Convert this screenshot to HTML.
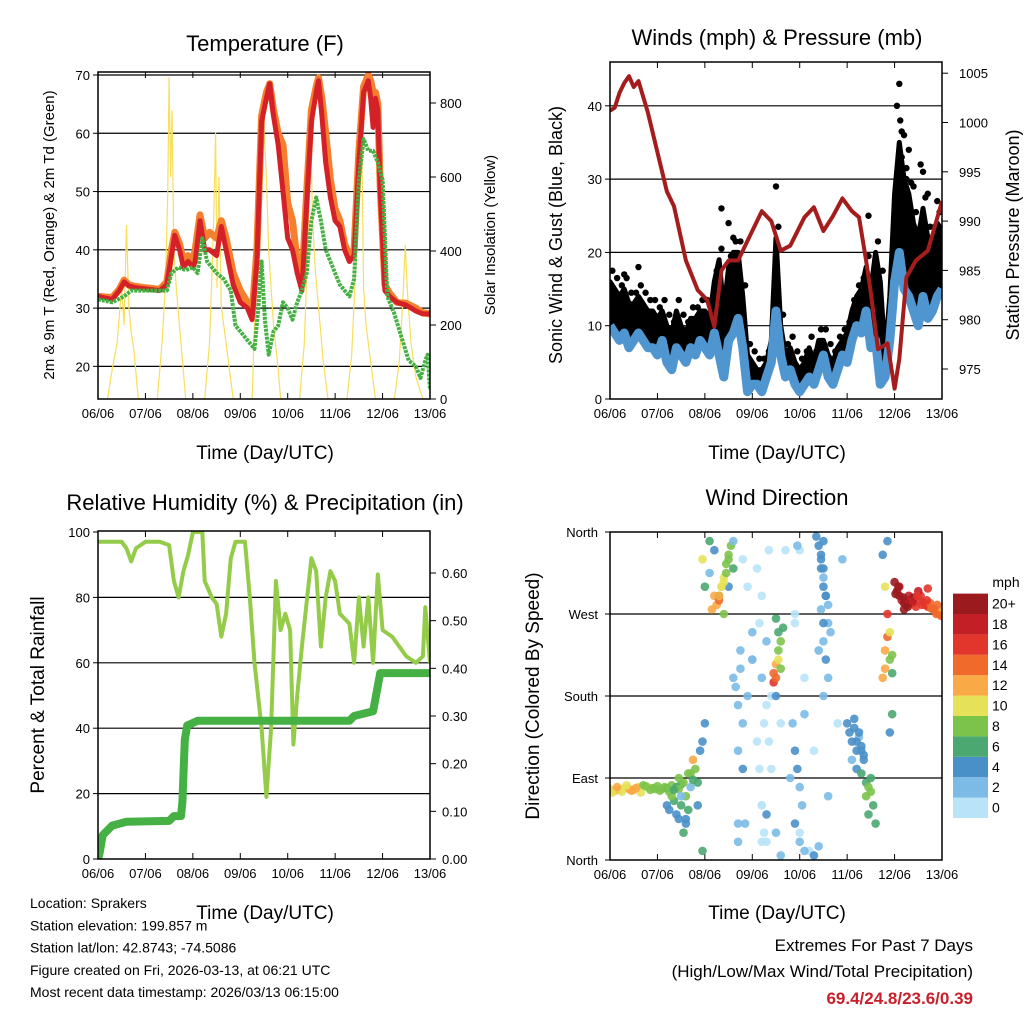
<!DOCTYPE html>
<html><head><meta charset="utf-8"><style>
body{margin:0;background:#fff}
svg{display:block;font-family:"Liberation Sans",Arial,sans-serif}
</style></head><body>
<svg id="s" width="1024" height="1024" viewBox="0 0 1024 1024"></svg>
<script>
// ---------- DATA ----------
const dayLabels=["06/06","07/06","08/06","09/06","10/06","11/06","12/06","13/06"];
const tempTicks=[20,30,40,50,60,70];
const solarTicks=[0,200,400,600,800];
const windTicks=[0,10,20,30,40];
const presTicks=[975,980,985,990,995,1000,1005];
const rhTicks=[0,20,40,60,80,100];
const rainTicks=[0,0.1,0.2,0.3,0.4,0.5,0.6];
const dirTicks=["North","East","South","West","North"];
const speedBins=["0","2","4","6","8","10","12","14","16","18","20+"];

const redTime=[0,0.3,0.45,0.55,0.65,0.8,1.0,1.3,1.45,1.55,1.62,1.72,1.8,1.9,2.0,2.05,2.15,2.25,2.35,2.5,2.6,2.7,2.85,3.0,3.15,3.25,3.35,3.45,3.55,3.62,3.7,3.8,3.9,4.0,4.1,4.2,4.3,4.4,4.5,4.6,4.65,4.72,4.8,4.9,5.0,5.1,5.2,5.3,5.4,5.5,5.6,5.7,5.75,5.8,5.85,5.9,5.95,6.05,6.15,6.3,6.5,6.7,6.85,7.0];
const redTemp=[32,31.5,33,34.5,33.8,33.5,33.3,33,34,39,42.5,40,37,38,37,38,45,40,40,39,44,40,34,31,30,28,38,62,66,68.5,63,58,50,42,40,36,33,48,62,67,69,63,55,49,45,44,40,38,39,55,67,69,66,61,66,64,50,33,32,31,30.5,29.5,29,29];
const orangeTemp=[32,31.8,33.2,34.8,34,33.7,33.5,33.2,34.5,40,43,41,38,39,38,40,46,42,43,42,45,42,36,33,31,29,40,63,67,68.5,64,60,58,48,45,38,34,50,64,68,69.5,66,60,52,47,45,41,39,40,57,68,70,69,67,67,65,51,34,32.5,31,30.8,30,29.2,29];
const greenTime=[0,0.3,0.55,0.7,1.0,1.3,1.45,1.55,1.7,1.85,2.0,2.1,2.2,2.3,2.5,2.65,2.8,2.9,3.0,3.1,3.2,3.3,3.38,3.45,3.52,3.6,3.7,3.8,3.9,4.0,4.1,4.2,4.3,4.4,4.5,4.6,4.7,4.8,4.9,5.0,5.1,5.2,5.3,5.4,5.5,5.6,5.7,5.8,5.9,6.0,6.1,6.25,6.4,6.55,6.7,6.8,6.9,6.95,7.0];
const dewTemp=[31.5,31,32,33,33,33,33,36,37,36.5,37,36,42,38,36,35,33,27,26,25,24,23,30,38,28,22,26,27,31,30,28,31,33,36,45,49,45,40,38,36,34,33,32,35,52,59,57,57,55,52,32,29,25,21,20,18,21,22,16];
const solarTime=[0.2,0.3,0.4,0.5,0.55,0.6,0.65,0.7,0.75,0.85,1.25,1.35,1.42,1.47,1.5,1.53,1.56,1.6,1.65,1.75,1.85,2.25,2.35,2.42,2.46,2.48,2.51,2.55,2.6,2.7,2.85,3.25,3.3,3.38,3.45,3.5,3.55,3.6,3.7,3.8,3.85,4.25,4.35,4.42,4.48,4.52,4.58,4.65,4.75,4.85,5.25,5.35,5.45,5.5,5.55,5.6,5.65,5.75,5.85,6.25,6.35,6.42,6.48,6.52,6.6,6.7,6.85,7.0];
const solarVal=[0,80,150,300,200,470,250,180,140,0,0,150,300,550,870,600,780,400,300,150,0,0,150,400,600,720,300,600,250,150,0,0,200,500,650,730,600,400,200,80,0,0,150,400,750,500,350,250,100,0,0,120,400,650,835,300,200,100,0,0,100,250,416,300,150,60,0,0];

const windWind=[10,9,8,9,7,8,9,8,7,7,6,8,5,4,7,6,5,7,6,8,7,6,9,6,3,8,9,11,7,1,2,2,1,3,5,12,6,3,4,2,1,2,3,2,4,6,3,2,4,6,5,8,10,9,12,7,8,2,3,8,16,20,15,14,12,10,14,11,12,14,15];
const windGust=[16,15,14,15,13,13,14,13,12,12,11,12,10,9,12,10,9,11,11,12,12,11,16,19,12,18,20,20,14,6,5,4,4,5,8,22,10,6,7,5,4,5,7,5,8,8,6,5,7,8,9,12,14,15,18,15,20,16,6,14,28,35,30,28,24,22,26,22,22,24,23];
const gustPeakTime=[6.05,6.1,6.12,6.2,6.3,6.55,6.6,3.5,2.35,5.45,6.15,6.25,6.4,6.7,6.9,2.5,2.6,0.3,0.6];
const gustPeakVal=[40,43,38,36,34,32,31,29,26,25,33,30,29,28,27,24,22,17,18];
const presTime=[0,0.1,0.2,0.3,0.4,0.5,0.6,0.8,1.0,1.2,1.35,1.6,1.85,2.05,2.2,2.35,2.5,2.7,2.9,3.2,3.4,3.6,3.8,4.1,4.3,4.5,4.7,4.9,5.1,5.25,5.4,5.5,5.65,5.85,6.0,6.1,6.25,6.45,6.7,7.0];
const presVal=[1001.2,1001.5,1003,1004,1004.7,1003.6,1004.2,1001,997,993,991.5,986,983,982,979.3,985,986,986,988,991,990,987,987.5,990.4,991.4,989,990.5,992.3,991,990.4,986,982.7,977,977.6,973,976,984.3,986,987,992];

const rhTime=[0,0.5,0.6,0.7,0.8,1.0,1.3,1.5,1.6,1.7,1.8,1.9,2.0,2.2,2.25,2.4,2.5,2.6,2.7,2.8,2.9,3.1,3.2,3.3,3.45,3.55,3.65,3.75,3.85,3.95,4.05,4.12,4.2,4.3,4.5,4.6,4.7,4.8,4.9,5.0,5.1,5.3,5.4,5.5,5.6,5.7,5.8,5.9,6.0,6.2,6.5,6.7,6.85,6.9,7.0];
const rhVal=[97,97,95,91,95,97,97,96,85,80,88,93,100,100,85,80,78,68,75,92,97,97,80,60,40,19,40,85,70,75,70,35,50,65,92,88,65,80,88,85,75,72,60,80,65,80,60,87,70,68,62,60,62,77,60];
const rainTime=[0,0.03,0.1,0.3,0.6,1.5,1.6,1.75,1.78,1.83,1.88,2.1,3.0,5.3,5.4,5.8,5.95,7.0];
const rainVal=[0,0.01,0.05,0.07,0.078,0.08,0.09,0.09,0.12,0.25,0.28,0.29,0.29,0.29,0.30,0.31,0.39,0.39];

const wdTime=[0,0.1,0.2,0.3,0.4,0.5,0.6,0.7,0.8,0.9,1.0,1.1,1.2,1.3,1.4,1.5,0.05,0.25,0.45,0.65,0.85,1.05,1.25,1.45,
1.2,1.25,1.35,1.4,1.45,1.5,1.55,1.6,1.65,1.7,1.75,1.8,1.85,1.9,1.95,2.0,1.3,1.6,1.7,1.85,1.95,
1.95,2.0,2.1,2.15,2.2,2.25,2.3,2.35,2.4,2.45,2.5,2.55,2.6,2.2,2.3,2.4,2.5,2.6,2.1,
2.6,2.8,2.9,3.0,3.1,3.2,3.3,3.4,2.7,2.9,3.0,3.2,3.4,3.6,3.8,3.9,4.0,4.2,4.4,4.6,4.8,4.9,3.7,3.9,4.1,4.3,4.1,4.0,3.2,3.5,2.8,3.0,3.3,3.6,
3.45,3.5,3.5,3.55,3.55,3.6,3.6,3.65,3.5,3.45,3.5,3.55,
4.35,4.4,4.45,4.45,4.5,4.5,4.55,4.6,4.6,4.65,4.5,4.4,4.55,4.6,4.5,4.4,4.3,
5.0,5.05,5.1,5.1,5.15,5.2,5.2,5.25,5.3,5.3,5.35,5.4,5.45,5.5,5.4,5.5,5.55,5.45,5.6,
5.75,5.8,5.8,5.85,5.9,5.9,5.95,5.95,5.85,5.8,5.75,5.85,5.95,5.9,
6.0,6.05,6.1,6.15,6.2,6.25,6.3,6.35,6.4,6.45,6.5,6.55,6.6,6.65,6.7,6.75,6.8,6.85,6.9,6.95,7.0,6.1,6.3,6.5,6.7,6.9,6.2,6.4,
0.15,0.35,0.55,0.75,0.95,1.15,1.35,
1.45,1.55,1.65,1.75,1.5,1.6,
2.3,2.35,2.4,2.45,2.5,
2.65,2.7,2.75,2.7,2.8,2.85,2.7,2.75,
3.1,3.15,3.2,3.25,3.3,3.35,3.2,3.3,3.15,3.25,3.35,
3.85,3.9,3.95,4.0,4.05,3.9,4.0,4.1,3.95,
4.5,4.45,4.5,4.55,4.45,4.5,
5.15,5.2,5.25,5.3,5.35,
6.02,6.08,6.18,6.28,6.38,6.48,6.58,6.68,6.78,6.88,6.98];
const wdDir=[78,76,77,79,78,77,80,82,80,79,81,78,79,82,80,83,74,75,76,74,77,76,75,78,
60,55,65,50,45,60,30,70,55,95,110,100,85,120,130,150,70,40,80,60,10,
330,300,350,275,290,280,285,300,310,325,335,345,320,340,290,270,300,350,315,
200,150,180,220,130,60,240,100,40,300,250,200,180,150,90,260,30,10,230,70,150,330,340,270,200,120,160,340,20,30,330,220,50,5,
195,200,215,220,230,210,240,255,265,205,180,250,
355,345,335,320,310,300,290,280,260,250,240,230,220,200,180,15,5,
150,140,130,110,145,120,100,135,125,95,115,85,80,75,70,90,60,50,40,
200,210,230,245,250,220,225,205,270,300,335,350,160,140,
305,295,290,285,282,280,285,283,282,278,285,290,283,280,278,282,276,275,272,270,275,300,290,295,298,280,275,288,
80,82,79,81,78,80,77,
90,85,95,88,70,45,
290,300,305,315,330,
190,170,210,120,100,40,20,230,
320,260,290,150,170,130,60,20,100,30,340,
150,120,100,80,60,40,20,10,345,
350,330,320,290,275,260,
155,130,140,120,110,
292,300,288,278,284,290,280,285,276,270,268];
const wdSpeed=[11,12,12,11,12,12,10,9,10,9,8,8,7,8,7,6,10,11,12,10,9,8,8,9,
4,4,6,4,5,7,6,8,6,8,12,8,7,4,5,4,8,4,3,4,6,
10,6,6,12,12,13,14,10,10,9,8,8,6,4,8,8,4,3,3,
2,2,3,2,0,0,2,1,2,0,3,2,0,0,2,1,0,0,1,2,0,3,1,0,0,1,2,0,1,2,0,3,4,2,
16,14,12,10,9,8,8,7,6,15,4,6,
4,4,4,4,3,4,4,3,2,2,3,2,4,3,2,3,4,
4,4,4,3,4,4,4,3,4,6,4,6,8,8,8,6,6,7,6,
12,12,13,14,10,8,8,6,16,10,4,4,6,5,
20,20,20,19,20,20,18,20,18,17,16,16,17,16,17,15,14,16,15,14,13,19,19,18,16,15,20,20,
12,11,12,9,9,8,7,
8,8,8,7,3,4,
12,11,10,9,9,
2,3,3,2,4,2,2,3,
0,0,1,0,1,0,0,1,0,1,0,
3,4,4,2,3,4,3,3,2,
4,4,4,4,3,4,
4,4,4,4,4,
20,20,20,20,18,17,16,16,15,15,14];
const speedColors=["#b9e4f8","#7bbbe6","#4a90c8","#4aa870","#7cc34c","#e5e25a","#f9a945","#f06a2c","#e2362c","#c21f26","#9b1a1e"];

// ---------- HELPERS ----------
const S=document.getElementById('s');const NS='http://www.w3.org/2000/svg';
function mk(tag,at,parent){const e=document.createElementNS(NS,tag);for(const k in at)e.setAttribute(k,at[k]);(parent||S).appendChild(e);return e;}
function txt(str,x,y,size,anchor,rot,parent,weight,fill){const at={x:x,y:y,'font-size':size,'text-anchor':anchor||'middle',fill:fill||'#000'};if(weight)at['font-weight']=weight;if(rot)at.transform='rotate(-90 '+x+' '+y+')';const e=mk('text',at,parent);e.textContent=str;return e;}
function lin(d0,d1,r0,r1){return v=>r0+(v-d0)/(d1-d0)*(r1-r0);}
function path(xs,ys,fx,fy){return xs.map((t,i)=>(i?'L':'M')+fx(t).toFixed(1)+' '+fy(ys[i]).toFixed(1)).join(' ');}

function panel(name,x0,x1,y0,y1){
  const g=mk('g',{},S);
  
  
  const fx=lin(0,7,x0,x1);
  const cp=mk('clipPath',{id:'c'+name},g);mk('rect',{x:x0,y:y0,width:x1-x0,height:y1-y0},cp);
  const ax=mk('g',{},g);
  
  
  dayLabels.forEach((l,i)=>{const x=fx(i);mk('line',{x1:x,x2:x,y1:y1,y2:y1-6,stroke:'#000'},ax);mk('line',{x1:x,x2:x,y1:y0,y2:y0+6,stroke:'#000'},ax);txt(l,x,y1+19,13,'middle',0,ax);});
  return {g,fx,clip:'url(#c'+name+')'};
}
function frame(g,x0,x1,y0,y1){mk('rect',{x:x0,y:y0,width:x1-x0,height:y1-y0,fill:'none',stroke:'#000','stroke-width':1.5},g);}
function grid(g,ys,x0,x1){ys.forEach(y=>mk('line',{x1:x0,x2:x1,y1:y,y2:y,stroke:'#000','stroke-width':1.2},g));}

// ---------- PANEL 1: TEMPERATURE ----------
(function(){
  const x0=98,x1=430,y0=72,y1=399;
  const P=panel('temperature-panel',x0,x1,y0,y1);const g=P.g,fx=P.fx;
  const fy=lin(70,14.4,75,399), fs=lin(0,200,399,325);
  txt('Temperature (F)',265,51,22,'middle',0,g);
  grid(g,tempTicks.map(fy),x0,x1);
  const data=mk('g',{'clip-path':P.clip},g);
  const sol=mk('path',{d:path(solarTime,solarVal,fx,fs),fill:'none',stroke:'#f8de5a','stroke-width':1.2},data);
  
  
  const o=mk('path',{d:path(redTime,orangeTemp,fx,fy),fill:'none',stroke:'#f47f2e','stroke-width':7,'stroke-linejoin':'round'},data);
  
  
  const r=mk('path',{d:path(redTime,redTemp,fx,fy),fill:'none',stroke:'#d42027','stroke-width':5,'stroke-linejoin':'round'},data);
  
  
  const gr=mk('path',{d:path(greenTime,dewTemp,fx,fy),fill:'none',stroke:'#45b043','stroke-width':4,'stroke-dasharray':'3 1','stroke-linejoin':'round'},data);
  
  
  frame(g,x0,x1,y0,y1);
  tempTicks.forEach(v=>{const y=fy(v);mk('line',{x1:x0-5,x2:x0,y1:y,y2:y,stroke:'#000'},g);txt(String(v),x0-8,y+5,13,'end',0,g);});
  solarTicks.forEach(v=>{const y=fs(v);mk('line',{x1:x1,x2:x1+6,y1:y,y2:y,stroke:'#000'},g);txt(String(v),x1+10,y+5,13,'start',0,g);});
  txt('2m & 9m T (Red, Orange) & 2m Td (Green)',54,235,15,'middle',1,g);
  txt('Solar Insolation (Yellow)',495,235,15,'middle',1,g);
  txt('Time (Day/UTC)',265,459,19,'middle',0,g);
})();

// ---------- PANEL 2: WINDS ----------
(function(){
  const x0=610,x1=942,y0=62,y1=399;
  const P=panel('winds-panel',x0,x1,y0,y1);const g=P.g;
  const fx=lin(0,7,x0,x1), fy=lin(0,10,399,325.7), fp=lin(975,980,369,319.7);
  const windTime=windWind.map((v,i)=>i*0.1);
  txt('Winds (mph) & Pressure (mb)',777,45,22,'middle',0,g);
  grid(g,windTicks.slice(1).map(fy),x0,x1);
  const data=mk('g',{'clip-path':P.clip},g);
  const top=path(windTime,windGust,fx,fy);
  const rt=windTime.slice().reverse(), rw=windWind.slice().reverse();
  const bot=rt.map((t,i)=>'L'+fx(t).toFixed(1)+' '+fy(rw[i]).toFixed(1)).join(' ');
  const gl=mk('path',{d:top+' '+bot+' Z',fill:'#000',stroke:'#000','stroke-width':5,'stroke-linejoin':'round'},data);
  
  
  windGust.forEach((v,i)=>{
    const c=mk('circle',{cx:fx(windTime[i]+0.05),cy:fy(v+1.5),r:3.2,fill:'#000'},data);
    
    
  });
  gustPeakTime.forEach((t,i)=>{
    const c=mk('circle',{cx:fx(t),cy:fy(gustPeakVal[i]),r:3.2,fill:'#000'},data);
    
    
  });
  const bl=mk('path',{d:path(windTime,windWind,fx,fy),fill:'none',stroke:'#4f96d0','stroke-width':9,'stroke-linejoin':'round'},data);
  
  
  const pl=mk('path',{d:path(presTime,presVal,fx,fp),fill:'none',stroke:'#a51c1c','stroke-width':4,'stroke-linejoin':'round'},data);
  
  
  frame(g,x0,x1,y0,y1);
  windTicks.forEach(v=>{const y=fy(v);mk('line',{x1:x0-5,x2:x0,y1:y,y2:y,stroke:'#000'},g);txt(String(v),x0-8,y+5,13,'end',0,g);});
  presTicks.forEach(v=>{const y=fp(v);mk('line',{x1:x1,x2:x1+6,y1:y,y2:y,stroke:'#000'},g);txt(String(v),x1+17,y+5,13,'start',0,g);});
  txt('Sonic Wind & Gust (Blue, Black)',562,235,18,'middle',1,g);
  txt('Station Pressure (Maroon)',1019,235,18,'middle',1,g);
  txt('Time (Day/UTC)',777,459,19,'middle',0,g);
})();

// ---------- PANEL 3: RH & PRECIP ----------
(function(){
  const x0=98,x1=430,y0=531,y1=859;
  const P=panel('humidity-panel',x0,x1,y0,y1);const g=P.g,fx=P.fx;
  const fy=lin(0,100,859,532), fr=lin(0,0.6,859,573);
  txt('Relative Humidity (%) & Precipitation (in)',265,510,22,'middle',0,g);
  grid(g,[20,40,60,80].map(fy),x0,x1);
  const data=mk('g',{'clip-path':P.clip},g);
  const rh=mk('path',{d:path(rhTime,rhVal,fx,fy),fill:'none',stroke:'#94cc4a','stroke-width':4,'stroke-linejoin':'round'},data);
  
  
  const rn=mk('path',{d:path(rainTime,rainVal,fx,fr),fill:'none',stroke:'#45b043','stroke-width':8,'stroke-linejoin':'round','stroke-linecap':'round'},data);
  
  
  frame(g,x0,x1,y0,y1);
  rhTicks.forEach(v=>{const y=fy(v);mk('line',{x1:x0-5,x2:x0,y1:y,y2:y,stroke:'#000'},g);txt(String(v),x0-8,y+5,13,'end',0,g);});
  rainTicks.forEach(v=>{const y=fr(v);mk('line',{x1:x1,x2:x1+6,y1:y,y2:y,stroke:'#000'},g);txt(v.toFixed(2),x1+12,y+5,13,'start',0,g);});
  txt('Percent & Total Rainfall',44,695,19,'middle',1,g);
  txt('Time (Day/UTC)',265,919,19,'middle',0,g);
})();

// ---------- PANEL 4: WIND DIRECTION ----------
(function(){
  const x0=610,x1=942,y0=532,y1=860;
  const P=panel('wind-direction-panel',x0,x1,y0,y1);const g=P.g,fx=P.fx;
  const fy=lin(0,360,860,532);
  txt('Wind Direction',777,505,22,'middle',0,g);
  grid(g,[90,180,270].map(fy),x0,x1);
  const data=mk('g',{'clip-path':P.clip},g);
  wdTime.forEach((t,i)=>{
    const bin=Math.min(10,Math.floor(wdSpeed[i]/2));
    const c=mk('circle',{cx:fx(t),cy:fy(wdDir[i]),r:4.3,fill:speedColors[bin],'fill-opacity':0.9},data);
    
    
  });
  frame(g,x0,x1,y0,y1);
  dirTicks.forEach((l,i)=>{const y=fy(i*90);mk('line',{x1:x0-5,x2:x0,y1:y,y2:y,stroke:'#000'},g);txt(l,x0-12,y+5,13,'end',0,g);});
  txt('Direction (Colored By Speed)',539,696,19,'middle',1,g);
  txt('Time (Day/UTC)',777,919,19,'middle',0,g);
  const lg=mk('g',{},g);
  
  
  txt('mph',1006,587,14,'middle',0,lg);
  speedBins.forEach((l,i)=>{const yy=797.6-i*20.4;mk('rect',{x:953,y:yy,width:35,height:20.4,fill:speedColors[i]},lg);txt(l,992,yy+15,14,'start',0,lg);});
})();

// ---------- FOOTER ----------
(function(){
  const g=mk('g',{},S);
  
  
  ["Location: Sprakers","Station elevation: 199.857 m","Station lat/lon: 42.8743; -74.5086","Figure created on Fri, 2026-03-13, at 06:21 UTC","Most recent data timestamp: 2026/03/13 06:15:00"].forEach((s,i)=>txt(s,30,908+i*22.3,14,'start',0,g));
  const e=mk('g',{},S);
  
  
  txt('Extremes For Past 7 Days',973,951,17,'end',0,e);
  txt('(High/Low/Max Wind/Total Precipitation)',973,977,17,'end',0,e);
  txt('69.4/24.8/23.6/0.39',973,1004,17,'end',0,e,'bold','#c8202a');
})();
</script>
</body></html>
